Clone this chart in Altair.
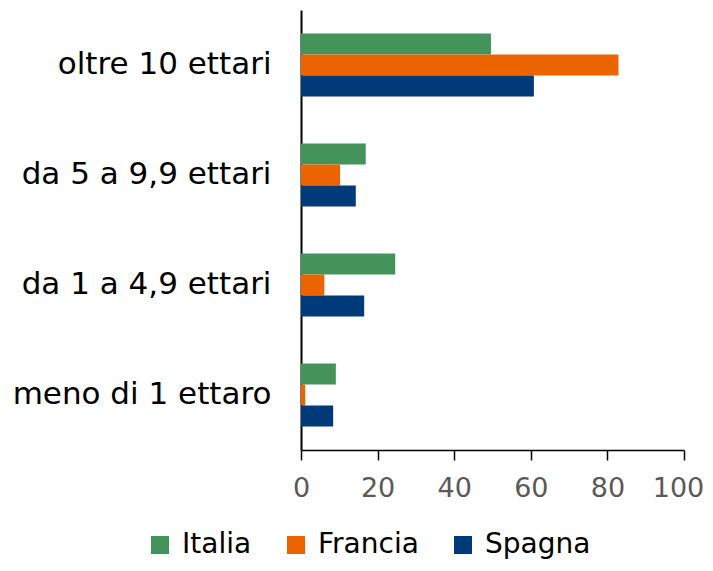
import altair as alt
import pandas as pd

categories = ["oltre 10 ettari", "da 5 a 9,9 ettari", "da 1 a 4,9 ettari", "meno di 1 ettaro"]
series = ["Italia", "Francia", "Spagna"]
italia = [49.6, 16.9, 24.6, 9.1]
francia = [82.9, 10.2, 6.1, 1.1]
spagna = [60.8, 14.3, 16.5, 8.4]
colors = ["#43935A", "#EC6400", "#003A78"]
x_ticks = [0, 20, 40, 60, 80, 100]

rows = []
for i, c in enumerate(categories):
    for s, vals in zip(series, [italia, francia, spagna]):
        rows.append({"categoria": c, "paese": s, "valore": vals[i]})
df = pd.DataFrame(rows)

FONT = "DejaVu Sans"

chart = alt.Chart(df).mark_bar().encode(
    y=alt.Y("categoria:N", sort=categories,
            scale=alt.Scale(paddingInner=0.427, paddingOuter=0.2135),
            axis=alt.Axis(title=None, ticks=False, labelFontSize=31, labelColor="#000000",
                          labelFont=FONT, labelPadding=30, domainColor="#000000",
                          domainWidth=2, labelLimit=400)),
    yOffset=alt.YOffset("paese:N", sort=series, scale=alt.Scale(paddingInner=0, paddingOuter=0)),
    x=alt.X("valore:Q", scale=alt.Scale(domain=[0, 100], nice=False),
            axis=alt.Axis(title=None, values=x_ticks, grid=False, labelFontSize=27,
                          labelColor="#595959", labelFont=FONT, tickColor="#000000",
                          tickSize=10, tickWidth=1.5, domainColor="#000000", domainWidth=1.5,
                          labelPadding=15, labelFlush=False,
                          labelOffset={"condition": {"test": "datum.value == 100", "value": -6},
                                       "value": 0})),
    color=alt.Color("paese:N", sort=series,
                    scale=alt.Scale(domain=series, range=colors),
                    legend=alt.Legend(title=None, orient="none", direction="horizontal",
                                      legendX=-155, legendY=521, symbolType="square",
                                      symbolSize=324, symbolStrokeWidth=0, labelFontSize=28,
                                      labelFont=FONT, labelColor="#000000", columnPadding=30,
                                      labelOffset=8)),
).properties(
    width=383, height=440,
    autosize=alt.AutoSizeParams(type="none"),
    padding={"left": 293, "top": 2, "right": 21, "bottom": 113},
).configure_view(stroke=None)

chart.save("out.html", embed_options={"renderer": "svg", "actions": False})
